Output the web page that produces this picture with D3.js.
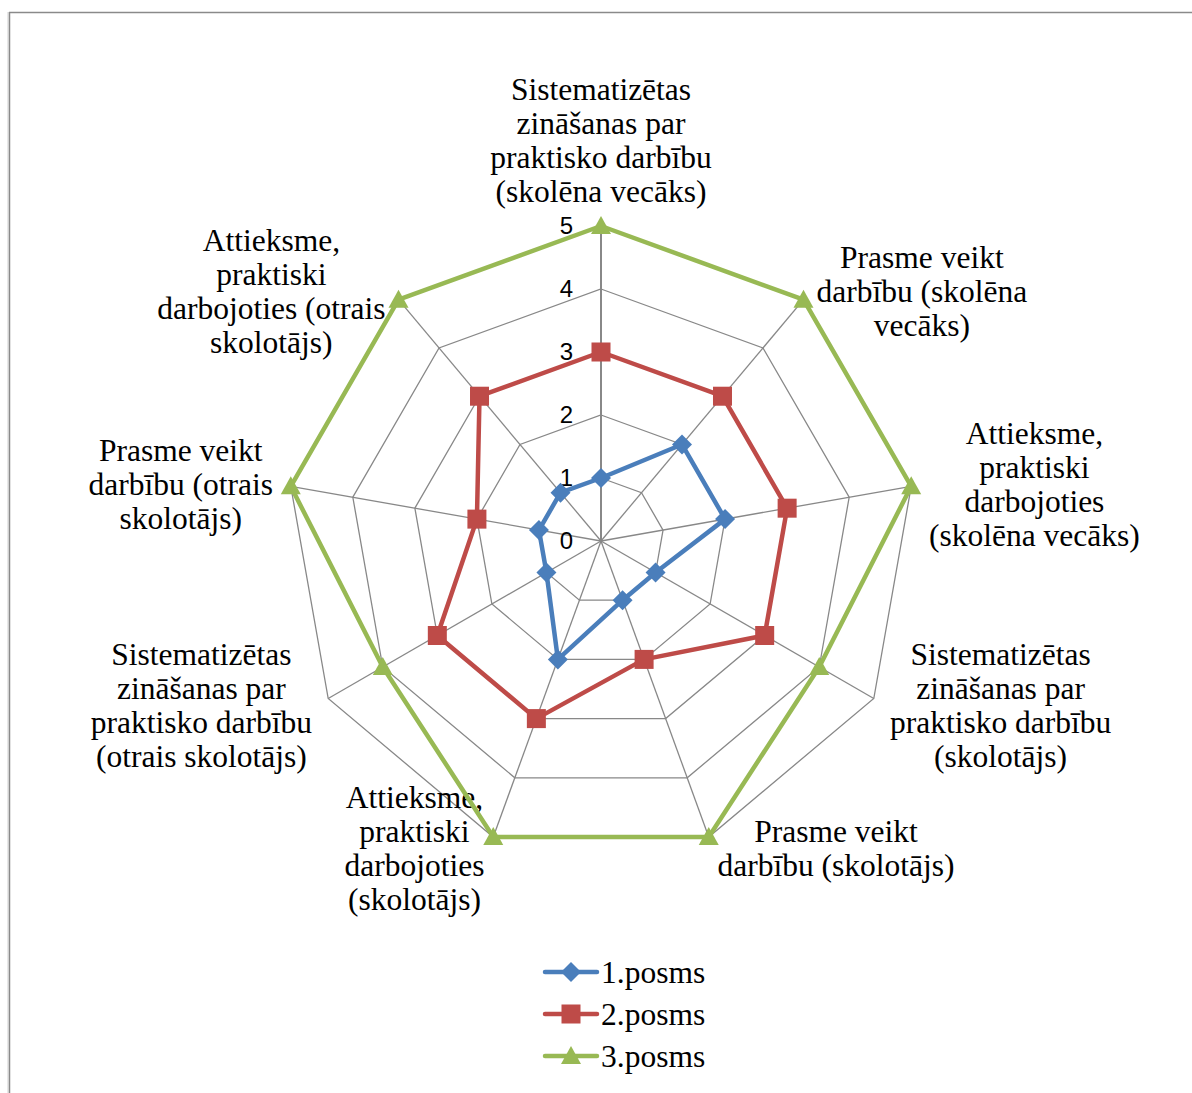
<!DOCTYPE html>
<html><head><meta charset="utf-8">
<script src="https://cdn.jsdelivr.net/npm/d3@7"></script>
<style>
html,body{margin:0;padding:0;background:#fff;}
svg{display:block;}
</style></head>
<body>
<svg id="chart" width="1192" height="1093"></svg>
<script>
// ---- data ----
const categories = [
  ["Sistematizētas","zināšanas par","praktisko darbību","(skolēna vecāks)"],
  ["Prasme veikt","darbību (skolēna","vecāks)"],
  ["Attieksme,","praktiski","darbojoties","(skolēna vecāks)"],
  ["Sistematizētas","zināšanas par","praktisko darbību","(skolotājs)"],
  ["Prasme veikt","darbību (skolotājs)"],
  ["Attieksme,","praktiski","darbojoties","(skolotājs)"],
  ["Sistematizētas","zināšanas par","praktisko darbību","(otrais skolotājs)"],
  ["Prasme veikt","darbību (otrais","skolotājs)"],
  ["Attieksme,","praktiski","darbojoties (otrais","skolotājs)"]
];
const seriesNames = ["1.posms","2.posms","3.posms"];
const posms1 = [1,2,2,1,1,2,1,1,1];
const posms2 = [3,3,3,3,2,3,3,2,3];
const posms3 = [5,5,5,4,5,5,4,5,5];
const tickValues = [0,1,2,3,4,5];
const colors = ["#4a7ebb","#be4b48","#98b954"];
const markers = ["diamond","square","triangle"];

// ---- layout ----
const svg = d3.select("#chart");
const cx = 601, cy = 541, R = 315;
const serif = "'Liberation Serif', 'Times New Roman', serif";
const sans = "'Liberation Sans', Arial, sans-serif";
const fs = 31.5;

// frame
svg.append("rect").attr("x",7).attr("y",12).attr("width",2).attr("height",1093).attr("fill","#e8e8e8");
svg.append("line").attr("x1",9).attr("y1",12.5).attr("x2",1192).attr("y2",12.5).attr("stroke","#8a8a8a").attr("stroke-width",1.5);
svg.append("line").attr("x1",9.5).attr("y1",12).attr("x2",9.5).attr("y2",1093).attr("stroke","#8a8a8a").attr("stroke-width",1.5);

const n = categories.length;
const angle = d3.scaleLinear().domain([0,n]).range([0,2*Math.PI]);
const r = d3.scaleLinear().domain([0,5]).range([0,R]);
const pt = (i,v) => [cx + r(v)*Math.sin(angle(i)), cy - r(v)*Math.cos(angle(i))];

const g = svg.append("g");
// grid rings
tickValues.filter(t=>t>0).forEach(t=>{
  g.append("path")
   .attr("d", d3.line()(d3.range(n).map(i=>pt(i,t))) + "Z")
   .attr("fill","none").attr("stroke","#888").attr("stroke-width",1.3);
});
// spokes
d3.range(n).forEach(i=>{
  const p = pt(i,5);
  g.append("line").attr("x1",cx).attr("y1",cy).attr("x2",p[0]).attr("y2",p[1])
   .attr("stroke","#888").attr("stroke-width",i===0?2:1.3);
});

// tick labels
tickValues.forEach(t=>{
  g.append("text").attr("x",cx-28).attr("y",cy - r(t)).attr("dy","0.35em")
   .attr("text-anchor","end").attr("font-family",sans).attr("font-size",24)
   .attr("fill","#000").text(t);
});

// category labels
const lh = 34;
categories.forEach((lines,i)=>{
  const a = angle(i);
  const p = pt(i,5);
  const s = Math.sin(a), c = Math.cos(a);
  let x, anchor, yc;
  if (Math.abs(s) < 0.01) {
    x = p[0]; anchor = "middle";
    yc = p[1] - 18 - lines.length*lh/2;
  } else {
    const off = 4 + 14*Math.abs(s);
    x = s > 0 ? p[0] + off : p[0] - off;
    anchor = s > 0 ? "start" : "end";
    yc = p[1] - 12*c;
  }
  const t = g.append("text").attr("font-family",serif).attr("font-size",fs)
    .attr("fill","#000").attr("text-anchor","middle");
  const spans = lines.map((ln,k)=>
    t.append("tspan").attr("x",0).attr("y", yc + (k - (lines.length-1)/2)*lh).attr("dy","0.35em").text(ln));
  const w = d3.max(spans, sp => sp.node().getComputedTextLength());
  const xc = anchor==="middle" ? x : (anchor==="start" ? x + w/2 : x - w/2);
  spans.forEach(sp => sp.attr("x", xc));
});

// series
const series = [posms1,posms2,posms3];
function marker(sel, type, x, y, color){
  if (type==="diamond"){
    sel.append("path").attr("d",`M${x},${y-10}L${x+10},${y}L${x},${y+10}L${x-10},${y}Z`).attr("fill",color);
  } else if (type==="square"){
    sel.append("rect").attr("x",x-9.5).attr("y",y-9.5).attr("width",19).attr("height",19).attr("fill",color);
  } else {
    sel.append("path").attr("d",`M${x},${y-10}L${x+10},${y+8}L${x-10},${y+8}Z`).attr("fill",color);
  }
}
series.forEach((vals,si)=>{
  const pts = vals.map((v,i)=>pt(i,v));
  g.append("path").attr("d", d3.line()(pts)+"Z").attr("fill","none")
   .attr("stroke",colors[si]).attr("stroke-width",4.5).attr("stroke-linejoin","round");
  const mg = g.append("g");
  pts.forEach(p=>marker(mg, markers[si], p[0], p[1], colors[si]));
});

// legend
const ly = d3.scalePoint().domain(seriesNames).range([972,1056]);
seriesNames.forEach((nm,si)=>{
  const y = ly(nm);
  svg.append("line").attr("x1",545).attr("x2",597).attr("y1",y).attr("y2",y)
     .attr("stroke",colors[si]).attr("stroke-width",4.5).attr("stroke-linecap","round");
  marker(svg, markers[si], 571, y, colors[si]);
  svg.append("text").attr("x",601).attr("y",y).attr("dy","0.35em")
     .attr("font-family",serif).attr("font-size",fs).attr("fill","#000").text(nm);
});
</script>
</body></html>
